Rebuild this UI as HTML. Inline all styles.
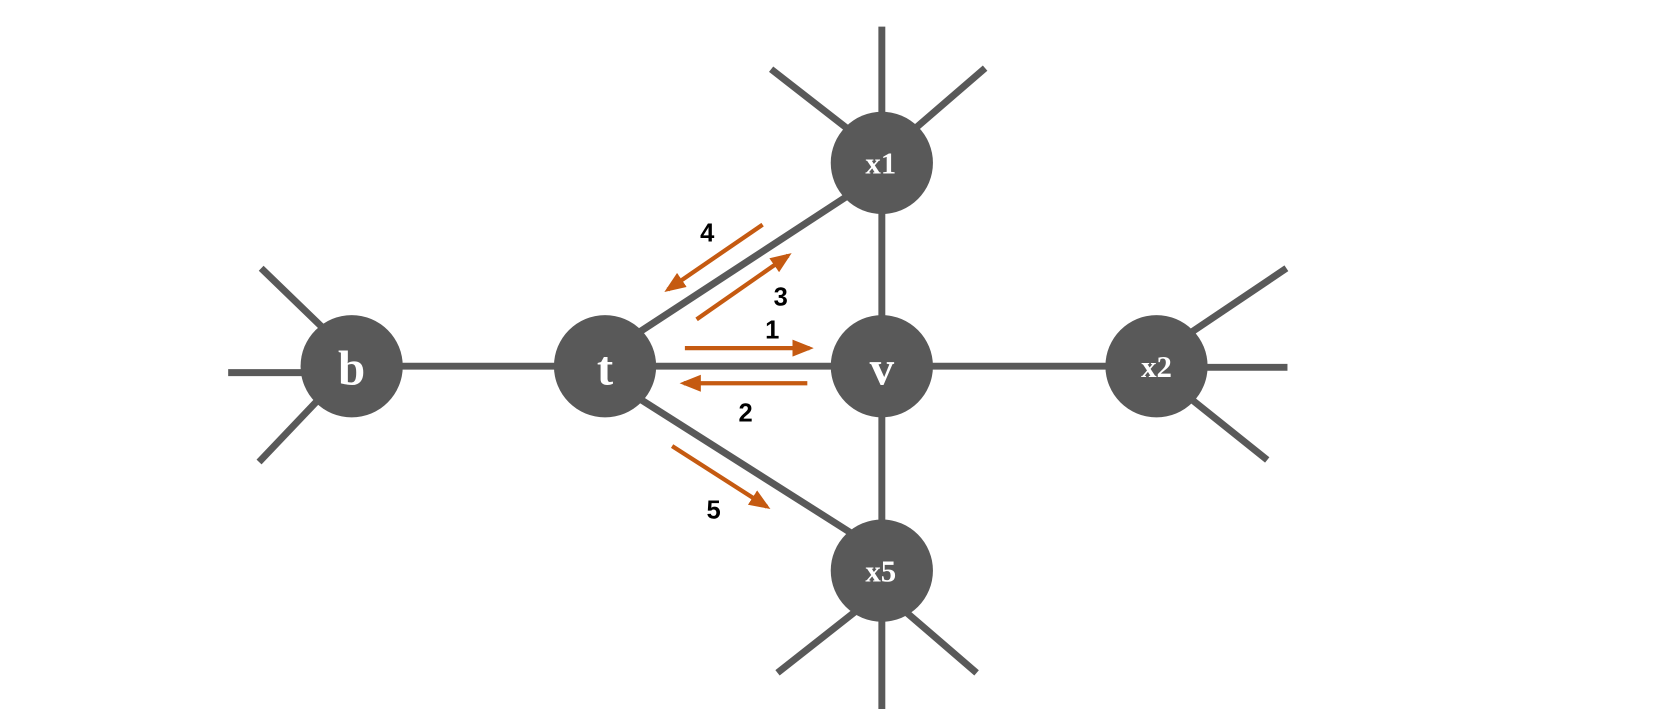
<!DOCTYPE html>
<html><head><meta charset="utf-8"><style>
html,body{margin:0;padding:0;background:#fff;width:1670px;height:725px;overflow:hidden}
</style></head><body>
<svg width="1670" height="725" viewBox="0 0 1568 681" xmlns="http://www.w3.org/2000/svg">
<defs>
<marker id="ah" markerWidth="5" markerHeight="4" refX="4" refY="2" orient="auto" markerUnits="strokeWidth">
<path d="M0,0 L5,2 L0,4 Z" fill="#C55A11"/></marker>
</defs>
<g stroke="#595959" stroke-width="6.5" fill="none">
<line x1="214" y1="350" x2="290" y2="350"/>
<line x1="245" y1="252" x2="305" y2="310"/>
<line x1="243" y1="434" x2="302" y2="372"/>
<line x1="330" y1="344" x2="568" y2="344"/>
<line x1="568" y1="344" x2="828" y2="344"/>
<line x1="828" y1="344" x2="1086" y2="344"/>
<line x1="1086" y1="345" x2="1209" y2="345"/>
<line x1="1110" y1="318" x2="1208" y2="252"/>
<line x1="1110" y1="368" x2="1190" y2="432"/>
<line x1="568" y1="333" x2="828" y2="163"/>
<line x1="568" y1="354" x2="828" y2="519"/>
<line x1="828" y1="153" x2="828" y2="536"/>
<line x1="828" y1="25" x2="828" y2="153"/>
<line x1="724" y1="65" x2="810" y2="132"/>
<line x1="925" y1="64" x2="845" y2="133"/>
<line x1="828" y1="536" x2="828" y2="666"/>
<line x1="730" y1="632" x2="810" y2="569"/>
<line x1="917" y1="632" x2="845" y2="570"/>
</g>
<g fill="#595959">
<circle cx="330" cy="344" r="48"/>
<circle cx="568" cy="344" r="48"/>
<circle cx="828" cy="344" r="48"/>
<circle cx="828" cy="153" r="48"/>
<circle cx="1086" cy="344" r="48"/>
<circle cx="828" cy="536" r="48"/>
</g>
<g fill="#fff" font-family="Liberation Serif, serif" font-weight="bold" text-anchor="middle">
<text x="330" y="361" font-size="46">b</text>
<text x="568" y="361" font-size="46">t</text>
<text x="828" y="361" font-size="46">v</text>
<text x="827" y="163" font-size="29">x1</text>
<text x="1086" y="354" font-size="29">x2</text>
<text x="827" y="546" font-size="29">x5</text>
</g>
<g stroke="#C55A11" stroke-width="4" fill="none" marker-end="url(#ah)">
<line x1="643" y1="327" x2="760" y2="327"/>
<line x1="758" y1="360" x2="642" y2="360"/>
<line x1="654" y1="300" x2="740" y2="240"/>
<line x1="716" y1="211" x2="627" y2="272"/>
<line x1="631" y1="419" x2="720" y2="476"/>
</g>
<g fill="#000" font-family="Liberation Sans, sans-serif" font-weight="bold" font-size="24" text-anchor="middle">
<text x="725" y="318">1</text>
<text x="700" y="396">2</text>
<text x="733" y="287">3</text>
<text x="664" y="227">4</text>
<text x="670" y="487">5</text>
</g>
</svg>
</body></html>
